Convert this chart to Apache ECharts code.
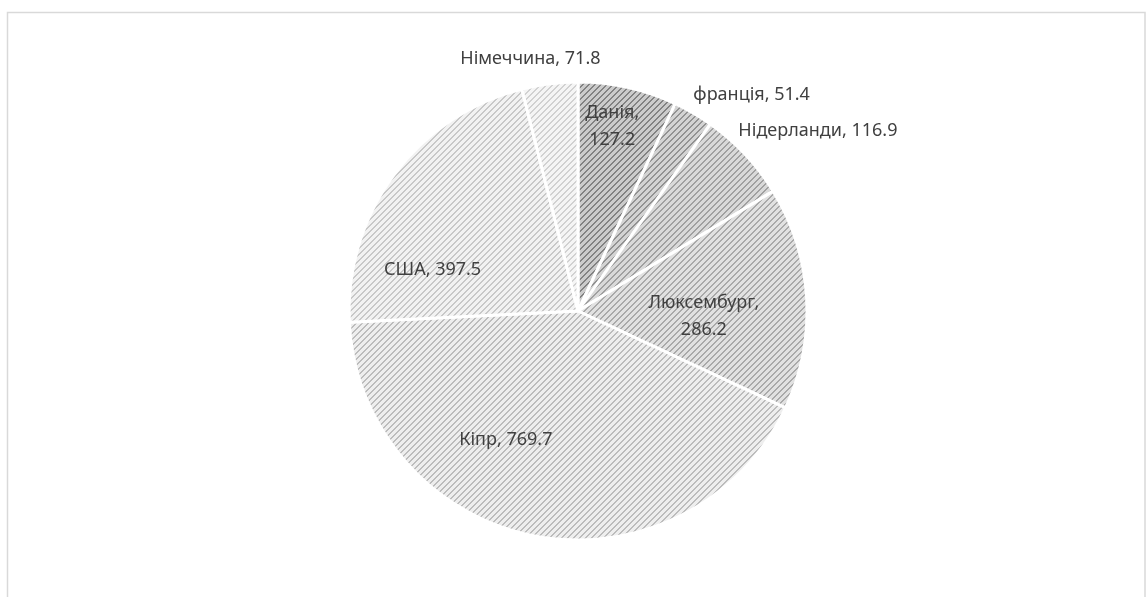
<!DOCTYPE html>
<html>
<head>
<meta charset="utf-8">
<script src="https://cdn.jsdelivr.net/npm/echarts@6/dist/echarts.min.js"></script>
<style>
  html, body { margin: 0; padding: 0; background: #fff; }
  #chart { width: 1147px; height: 597px; }
</style>
</head>
<body>
<div id="chart"></div>
<script>
// Countries, clockwise from 12 o'clock
const countries = ['Данія', 'франція', 'Нідерланди', 'Люксембург', 'Кіпр', 'США', 'Німеччина'];
const amounts = [127.2, 51.4, 116.9, 286.2, 769.7, 397.5, 71.8];

// Hatch colours per slice: [stripe, background]
const hatchColors = [
  ['#828282', '#cbcbcb'],
  ['#929292', '#d3d3d3'],
  ['#a0a0a0', '#d9d9d9'],
  ['#a9a9a9', '#e1e1e1'],
  ['#bcbcbc', '#eeeeee'],
  ['#c8c8c8', '#f2f2f2'],
  ['#d1d1d1', '#f5f5f5']
];

// Label anchor per slice: [angle clockwise from top in degrees, distance as fraction of radius]
const labelAnchors = [
  [10.5, 0.82],
  [38.8, 1.21],
  [53.1, 1.31],
  [92.3, 0.55],
  [209.2, 0.646],
  [285.8, 0.66],
  [349.3, 1.12]
];
// Slices whose label breaks after the comma
const twoLineLabels = [true, false, false, true, false, false, false];

const PIE_CX = 578, PIE_CY = 311, PIE_R = 229;

function hatch(fg, bg) {
  const size = 6;
  const c = document.createElement('canvas');
  c.width = size; c.height = size;
  const ctx = c.getContext('2d');
  ctx.fillStyle = bg;
  ctx.fillRect(0, 0, size, size);
  ctx.fillStyle = fg;
  for (let y = 0; y < size; y++) {
    for (let x = 0; x < size; x++) {
      const k = (x + y) % size;
      if (k === 0 || k === 1) ctx.fillRect(x, y, 1, 1);
    }
  }
  return { image: c, repeat: 'repeat' };
}

const chart = echarts.init(document.getElementById('chart'), null, { renderer: 'canvas' });

const pieData = countries.map((name, i) => ({
  name: name,
  value: amounts[i],
  itemStyle: { color: hatch(hatchColors[i][0], hatchColors[i][1]) },
  label: {
    formatter: twoLineLabels[i] ? '{b},\n{c}' : '{b}, {c}'
  }
}));

chart.setOption({
  animation: false,
  backgroundColor: '#ffffff',
  graphic: [{
    type: 'rect',
    silent: true,
    shape: { x: 7.5, y: 12.5, width: 1137.5, height: 620 },
    style: { fill: 'none', stroke: '#d9d9d9', lineWidth: 1.5 }
  }],
  series: [{
    type: 'pie',
    center: [PIE_CX, PIE_CY],
    radius: PIE_R,
    startAngle: 90,
    clockwise: true,
    avoidLabelOverlap: false,
    silent: true,
    itemStyle: { borderColor: '#ffffff', borderWidth: 3 },
    label: {
      show: true,
      position: 'inside',
      color: '#404040',
      fontFamily: 'Noto Sans',
      fontSize: 18,
      lineHeight: 27,
      align: 'center'
    },
    labelLine: { show: false },
    labelLayout: function (p) {
      const a = labelAnchors[p.dataIndex];
      const rad = a[0] * Math.PI / 180;
      return {
        x: PIE_CX + Math.sin(rad) * PIE_R * a[1],
        y: PIE_CY - Math.cos(rad) * PIE_R * a[1],
        align: 'center',
        verticalAlign: 'middle'
      };
    },
    data: pieData
  }]
});
</script>
</body>
</html>
